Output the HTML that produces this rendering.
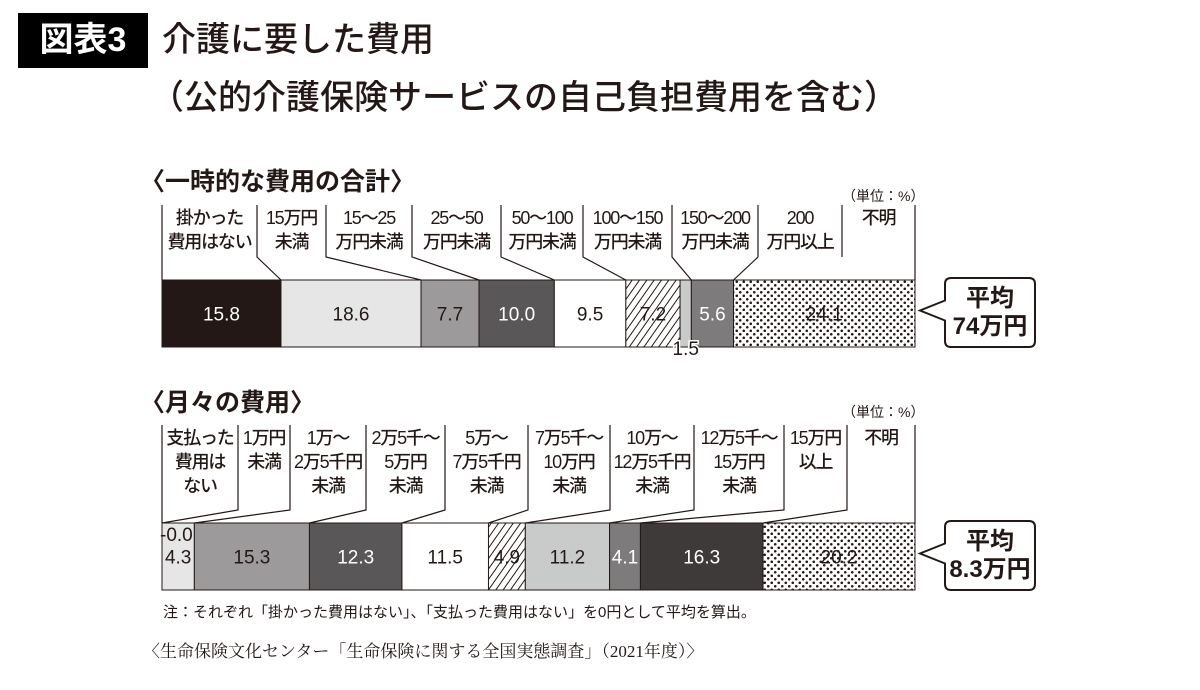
<!DOCTYPE html>
<html><head><meta charset="utf-8">
<style>
body{margin:0;background:#fff;width:1200px;height:690px;overflow:hidden;font-family:"Liberation Sans","Noto Sans CJK JP",sans-serif;color:#231815}
.t{position:absolute;white-space:nowrap}
</style></head><body>
<div class="t" style="left:18px;top:13px;width:130px;height:55px;background:#000;color:#fff;font-size:34px;line-height:55px;text-align:center;font-weight:bold">図表3</div>
<div class="t" style="left:162px;top:18px;font-size:34px;line-height:44px;font-weight:500">介護に要した費用</div>
<div class="t" style="left:150px;top:76px;font-size:34px;line-height:44px;font-weight:500">（公的介護保険サービスの自己負担費用を含む）</div>
<div class="t" style="left:140px;top:162px;font-size:25px;font-weight:bold">〈一時的な費用の合計〉</div>
<div class="t" style="left:842px;top:186px;font-size:14px">（単位：%）</div>
<div class="t" style="left:140px;top:383px;font-size:25px;font-weight:bold">〈月々の費用〉</div>
<div class="t" style="left:842px;top:402px;font-size:14px">（単位：%）</div>
<div class="t" style="left:163px;top:601px;font-size:15px">注：それぞれ「掛かった費用はない」、「支払った費用はない」を0円として平均を算出。</div>
<div class="t" style="left:143px;top:637px;font-size:17px;font-family:'Liberation Serif','Noto Serif CJK SC',serif">〈生命保険文化センター「生命保険に関する全国実態調査」（2021年度）〉</div>
<svg id="c" width="1200" height="690" style="position:absolute;left:0;top:0">
<defs>
<pattern id="hatch" width="6" height="6" patternUnits="userSpaceOnUse" patternTransform="rotate(35)"><rect width="6" height="6" fill="#fff"/><line x1="0" y1="0" x2="0" y2="6" stroke="#231815" stroke-width="2"/></pattern>
<pattern id="dots" width="7" height="7" patternUnits="userSpaceOnUse"><rect width="7" height="7" fill="#fff"/><circle cx="1.75" cy="1.75" r="1.3" fill="#231815"/><circle cx="5.25" cy="5.25" r="1.3" fill="#231815"/></pattern>
</defs>
</svg>
<script>
const cats1=["掛かった\n費用はない","15万円\n未満","15～25\n万円未満","25～50\n万円未満","50～100\n万円未満","100～150\n万円未満","","150～200\n万円未満","200\n万円以上","不明"];
const vals1=[15.8,18.6,7.7,10.0,9.5,7.2,1.5,5.6,24.1];
const fills1=["#231815","#e6e6e6","#9c9a9a","#595757","#fff","url(#hatch)","#c9caca","#7d7b7b","url(#dots)"];
const cats2=["支払った\n費用は\nない","1万円\n未満","1万～\n2万5千円\n未満","2万5千～\n5万円\n未満","5万～\n7万5千円\n未満","7万5千～\n10万円\n未満","10万～\n12万5千円\n未満","12万5千～\n15万円\n未満","15万円\n以上","不明"];
const vals2=[0.0,4.3,15.3,12.3,11.5,4.9,11.2,4.1,16.3,20.2];
const fills2=["#e6e6e6","#e6e6e6","#9c9a9a","#595757","#fff","url(#hatch)","#c9caca","#7d7b7b","#3e3a39","url(#dots)"];
const labelX1=[162,257,326,412,501,583,672,758,842];
const labelX2=[162,238,290,366,445,528,610,694,784,847];
const svg=document.getElementById('c');const NS="http://www.w3.org/2000/svg";
const X0=162,X1=915;
function mk(t,a){const e=document.createElementNS(NS,t);for(const k in a)e.setAttribute(k,a[k]);svg.appendChild(e);return e;}
function drawBar(vals,fills,cats,lx,y,h,labTop,labBot,avg,name){
 const tot=vals.reduce((a,b)=>a+b,0);const sx=v=>v/tot*(X1-X0);
 let x=X0;const starts=[];
 vals.forEach((v,i)=>{starts.push(x);const w=sx(v);
  const r=mk('rect',{x:x,y:y,width:w,height:h,fill:fills[i],stroke:'#231815','stroke-width':1});
  
  
  x+=w;});
 vals.forEach((v,i)=>{const w=sx(v),xs=starts[i];
  let light=(fills[i]=="#231815"||fills[i]=="#595757"||fills[i]=="#3e3a39"||fills[i]=="#7d7b7b");
  let tx=xs+w/2,ty=y+h/2+7,txt=v.toFixed(1),anc='middle',col=light?'#fff':'#231815';
  if(v===0){tx=xs-2;ty=y+18;txt="-0.0";anc='start';col='#231815';}
  if(name=='bar1'&&i==6){ty=y+h+8;col='#231815';}
  const t=mk('text',{x:tx,y:ty,'text-anchor':anc,'font-size':19,fill:col,stroke:(name=='bar1'&&i==6)?'#fff':'none','stroke-width':3,'paint-order':'stroke'});
  t.textContent=txt;
  
  });
 let li=0;
 cats.forEach((c,i)=>{if(!c)return;const xl=lx[li];const nx=(li+1<lx.length)?lx[li+1]:X1;li++;
  const segX=starts[i];
  mk('polyline',{points:`${xl},${labTop} ${xl},${labBot} ${segX},${y}`,fill:'none',stroke:'#231815','stroke-width':1.2});
  const lines=c.split("\n");
  lines.forEach((s,k)=>{const t=mk('text',{x:(xl+nx)/2,y:labTop+19+k*24,'text-anchor':'middle','font-size':18,'font-weight':500,'letter-spacing':-1.2,fill:'#231815'});t.textContent=s;
   
   });
 });
 mk('line',{x1:X1,y1:labTop,x2:X1,y2:y,stroke:'#231815','stroke-width':1.2});
 const by=y-2,bh=h+2;
 const p=mk('path',{d:`M945,${by+6} q0,-6 6,-6 h78 q6,0 6,6 v${bh-12} q0,6 -6,6 h-78 q-6,0 -6,-6 v${-(bh-12)/2+8} l-25,-10 l25,-10 z`,fill:'#fff',stroke:'#231815','stroke-width':2});
 
 
 avg.forEach((s,k)=>{const t=mk('text',{x:990,y:by+28+k*28,'text-anchor':'middle','font-size':24,'font-weight':'bold',fill:'#231815'});t.textContent=s;
  
  });
}
drawBar(vals1,fills1,cats1,labelX1,280,67,205,257,["平均","74万円"],'bar1');
drawBar(vals2,fills2,cats2,labelX2,523,67,425,510,["平均","8.3万円"],'bar2');
</script>
</body></html>
